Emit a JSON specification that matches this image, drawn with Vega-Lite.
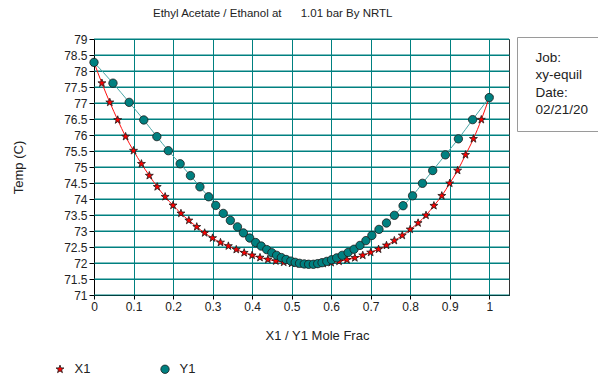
{
  "$schema": "https://vega.github.io/schema/vega-lite/v6.json",
  "width": 415,
  "height": 256,
  "autosize": {"type": "none"},
  "padding": {"left": 94, "top": 39, "right": 89, "bottom": 80},
  "background": "white",
  "config": {
    "font": "Liberation Sans",
    "view": {"stroke": "#333333", "strokeWidth": 1},
    "axisX": {
      "grid": true, "gridColor": "#008080", "gridOpacity": 1, "gridWidth": 1,
      "domainColor": "#000000", "tickColor": "#000000", "tickSize": 4,
      "labelPadding": 2, "labelFontSize": 12, "labelColor": "#222222",
      "labelOverlap": false, "labelFlush": false,
      "titleFontSize": 13, "titleFontWeight": "normal", "titleColor": "#222222",
      "titleX": 223, "titleY": 40, "titleBaseline": "middle", "titleAlign": "center"
    },
    "axisY": {
      "grid": true, "gridColor": "#008080", "gridOpacity": 1, "gridWidth": 1,
      "domainColor": "#000000", "tickColor": "#000000", "tickSize": 5,
      "labelPadding": 2, "labelFontSize": 12, "labelColor": "#222222",
      "labelOverlap": false, "labelFlush": false,
      "titleFontSize": 13, "titleFontWeight": "normal", "titleColor": "#222222",
      "titleX": -76, "titleY": 128, "titleBaseline": "middle", "titleAlign": "center"
    }
  },
  "title": {
    "text": "Ethyl Acetate / Ethanol at\u00a0\u00a0\u00a0\u00a0\u00a0\u00a01.01 bar By NRTL",
    "anchor": "start",
    "frame": "group",
    "dx": 59,
    "offset": 8,
    "fontSize": 11.5,
    "fontWeight": "normal",
    "color": "#222222",
    "baseline": "middle"
  },
  "datasets": {
    "ticks": [
      {"temp": 71}, {"temp": 71.5}, {"temp": 72}, {"temp": 72.5}, {"temp": 73}, {"temp": 73.5},
      {"temp": 74}, {"temp": 74.5}, {"temp": 75}, {"temp": 75.5}, {"temp": 76}, {"temp": 76.5},
      {"temp": 77}, {"temp": 77.5}, {"temp": 78}, {"temp": 78.5}, {"temp": 79}
    ],
    "vle": [
      {"series":"X1","frac":0.00,"temp":78.27},
      {"series":"X1","frac":0.02,"temp":77.62},
      {"series":"X1","frac":0.04,"temp":77.02},
      {"series":"X1","frac":0.06,"temp":76.47},
      {"series":"X1","frac":0.08,"temp":75.95},
      {"series":"X1","frac":0.10,"temp":75.51},
      {"series":"X1","frac":0.12,"temp":75.10},
      {"series":"X1","frac":0.14,"temp":74.73},
      {"series":"X1","frac":0.16,"temp":74.38},
      {"series":"X1","frac":0.18,"temp":74.07},
      {"series":"X1","frac":0.20,"temp":73.80},
      {"series":"X1","frac":0.22,"temp":73.55},
      {"series":"X1","frac":0.24,"temp":73.33},
      {"series":"X1","frac":0.26,"temp":73.13},
      {"series":"X1","frac":0.28,"temp":72.94},
      {"series":"X1","frac":0.30,"temp":72.78},
      {"series":"X1","frac":0.32,"temp":72.64},
      {"series":"X1","frac":0.34,"temp":72.53},
      {"series":"X1","frac":0.36,"temp":72.42},
      {"series":"X1","frac":0.38,"temp":72.32},
      {"series":"X1","frac":0.40,"temp":72.24},
      {"series":"X1","frac":0.42,"temp":72.17},
      {"series":"X1","frac":0.44,"temp":72.11},
      {"series":"X1","frac":0.46,"temp":72.06},
      {"series":"X1","frac":0.48,"temp":72.02},
      {"series":"X1","frac":0.50,"temp":71.99},
      {"series":"X1","frac":0.52,"temp":71.97},
      {"series":"X1","frac":0.54,"temp":71.96},
      {"series":"X1","frac":0.56,"temp":71.96},
      {"series":"X1","frac":0.58,"temp":71.98},
      {"series":"X1","frac":0.60,"temp":72.01},
      {"series":"X1","frac":0.62,"temp":72.05},
      {"series":"X1","frac":0.64,"temp":72.10},
      {"series":"X1","frac":0.66,"temp":72.16},
      {"series":"X1","frac":0.68,"temp":72.24},
      {"series":"X1","frac":0.70,"temp":72.33},
      {"series":"X1","frac":0.72,"temp":72.43},
      {"series":"X1","frac":0.74,"temp":72.55},
      {"series":"X1","frac":0.76,"temp":72.70},
      {"series":"X1","frac":0.78,"temp":72.86},
      {"series":"X1","frac":0.80,"temp":73.05},
      {"series":"X1","frac":0.82,"temp":73.25},
      {"series":"X1","frac":0.84,"temp":73.49},
      {"series":"X1","frac":0.86,"temp":73.79},
      {"series":"X1","frac":0.88,"temp":74.10},
      {"series":"X1","frac":0.90,"temp":74.49},
      {"series":"X1","frac":0.92,"temp":74.89},
      {"series":"X1","frac":0.94,"temp":75.38},
      {"series":"X1","frac":0.96,"temp":75.88},
      {"series":"X1","frac":0.98,"temp":76.48},
      {"series":"X1","frac":1.00,"temp":77.17},
      {"series":"Y1","frac":0.000,"temp":78.27},
      {"series":"Y1","frac":0.048,"temp":77.62},
      {"series":"Y1","frac":0.089,"temp":77.02},
      {"series":"Y1","frac":0.126,"temp":76.47},
      {"series":"Y1","frac":0.159,"temp":75.95},
      {"series":"Y1","frac":0.188,"temp":75.51},
      {"series":"Y1","frac":0.218,"temp":75.10},
      {"series":"Y1","frac":0.244,"temp":74.73},
      {"series":"Y1","frac":0.268,"temp":74.38},
      {"series":"Y1","frac":0.290,"temp":74.07},
      {"series":"Y1","frac":0.308,"temp":73.80},
      {"series":"Y1","frac":0.327,"temp":73.55},
      {"series":"Y1","frac":0.345,"temp":73.33},
      {"series":"Y1","frac":0.363,"temp":73.13},
      {"series":"Y1","frac":0.378,"temp":72.94},
      {"series":"Y1","frac":0.394,"temp":72.78},
      {"series":"Y1","frac":0.409,"temp":72.64},
      {"series":"Y1","frac":0.423,"temp":72.53},
      {"series":"Y1","frac":0.437,"temp":72.42},
      {"series":"Y1","frac":0.450,"temp":72.32},
      {"series":"Y1","frac":0.462,"temp":72.24},
      {"series":"Y1","frac":0.474,"temp":72.17},
      {"series":"Y1","frac":0.486,"temp":72.11},
      {"series":"Y1","frac":0.498,"temp":72.06},
      {"series":"Y1","frac":0.509,"temp":72.02},
      {"series":"Y1","frac":0.520,"temp":71.99},
      {"series":"Y1","frac":0.532,"temp":71.97},
      {"series":"Y1","frac":0.543,"temp":71.96},
      {"series":"Y1","frac":0.555,"temp":71.96},
      {"series":"Y1","frac":0.566,"temp":71.98},
      {"series":"Y1","frac":0.577,"temp":72.01},
      {"series":"Y1","frac":0.589,"temp":72.05},
      {"series":"Y1","frac":0.601,"temp":72.10},
      {"series":"Y1","frac":0.614,"temp":72.16},
      {"series":"Y1","frac":0.628,"temp":72.24},
      {"series":"Y1","frac":0.643,"temp":72.33},
      {"series":"Y1","frac":0.658,"temp":72.43},
      {"series":"Y1","frac":0.673,"temp":72.55},
      {"series":"Y1","frac":0.688,"temp":72.70},
      {"series":"Y1","frac":0.703,"temp":72.86},
      {"series":"Y1","frac":0.721,"temp":73.05},
      {"series":"Y1","frac":0.740,"temp":73.25},
      {"series":"Y1","frac":0.760,"temp":73.49},
      {"series":"Y1","frac":0.782,"temp":73.79},
      {"series":"Y1","frac":0.806,"temp":74.10},
      {"series":"Y1","frac":0.831,"temp":74.49},
      {"series":"Y1","frac":0.857,"temp":74.89},
      {"series":"Y1","frac":0.889,"temp":75.38},
      {"series":"Y1","frac":0.922,"temp":75.88},
      {"series":"Y1","frac":0.958,"temp":76.48},
      {"series":"Y1","frac":1.000,"temp":77.17}
    ],
    "info": [
      {"info": "Job:"},
      {"info": "xy-equil"},
      {"info": "Date:"},
      {"info": "02/21/20"}
    ]
  },
  "layer": [
    {
      "data": {"name": "ticks"},
      "mark": {"type": "rule", "color": "#008080", "strokeWidth": 1},
      "encoding": {
        "y": {"field": "temp", "type": "quantitative", "title": "Temp (C)"}
      }
    },
    {
      "data": {"name": "vle"},
      "mark": {"type": "line", "interpolate": "monotone", "strokeWidth": 1},
      "encoding": {
        "x": {"field": "frac", "type": "quantitative", "title": "X1 / Y1 Mole Frac",
          "scale": {"domain": [0, 1.05], "nice": false, "zero": false},
          "axis": {"values": [0, 0.1, 0.2, 0.3, 0.4, 0.5, 0.6, 0.7, 0.8, 0.9, 1], "format": "~g"}},
        "y": {"field": "temp", "type": "quantitative", "title": "Temp (C)",
          "scale": {"domain": [71, 79], "nice": false, "zero": false},
          "axis": {"tickCount": 16, "format": "~g", "grid": true, "gridColor": "#008080", "gridOpacity": 1, "gridWidth": 1}},
        "detail": {"field": "series", "type": "nominal"},
        "stroke": {"condition": {"test": "datum.series === 'X1'", "value": "#ff1010"}, "value": "#4aa6a6"}
      }
    },
    {
      "data": {"name": "vle"},
      "mark": {"type": "point", "filled": true, "opacity": 1, "stroke": "#1a1a1a", "strokeWidth": 0.8, "size": 70},
      "encoding": {
        "x": {"field": "frac", "type": "quantitative"},
        "y": {"field": "temp", "type": "quantitative"},
        "color": {"field": "series", "type": "nominal",
          "scale": {"domain": ["X1", "Y1"], "range": ["#ff0000", "#008080"]},
          "legend": {"orient": "none", "legendX": -40.5, "legendY": 323.5, "direction": "horizontal",
            "title": null, "labelFontSize": 13, "labelFontWeight": "normal", "labelColor": "#222222", "labelOffset": 8,
            "columnPadding": 68, "symbolSize": 70, "symbolStrokeColor": "#1a1a1a",
            "symbolStrokeWidth": 0.8, "padding": 0}},
        "shape": {"field": "series", "type": "nominal",
          "scale": {"domain": ["X1", "Y1"], "range": ["M0,-1L0.235,-0.324L0.951,-0.309L0.38,0.124L0.588,0.809L0,0.4L-0.588,0.809L-0.38,0.124L-0.951,-0.309L-0.235,-0.324Z", "circle"]},
          "legend": {"orient": "none", "legendX": -40.5, "legendY": 323.5, "direction": "horizontal",
            "title": null, "labelFontSize": 13, "labelFontWeight": "normal", "labelColor": "#222222", "labelOffset": 8,
            "columnPadding": 68, "symbolSize": 70, "symbolStrokeColor": "#1a1a1a",
            "symbolStrokeWidth": 0.8, "padding": 0}}
      }
    },
    {
      "data": {"name": "info"},
      "mark": {"type": "point", "opacity": 0},
      "encoding": {
        "strokeDash": {"field": "info", "type": "nominal", "sort": null,
          "legend": {"orient": "none", "legendX": 423, "legendY": -2, "title": null,
            "padding": 14, "strokeColor": "#9a9a9a", "fillColor": "#ffffff",
            "labelFontSize": 13.5, "labelFontWeight": "normal", "labelColor": "#222222", "labelOffset": -9, "labelLimit": 200,
            "symbolSize": 0, "symbolOpacity": 0, "symbolStrokeWidth": 0, "rowPadding": 2.5,
            "direction": "vertical"}}
      }
    }
  ]
}
